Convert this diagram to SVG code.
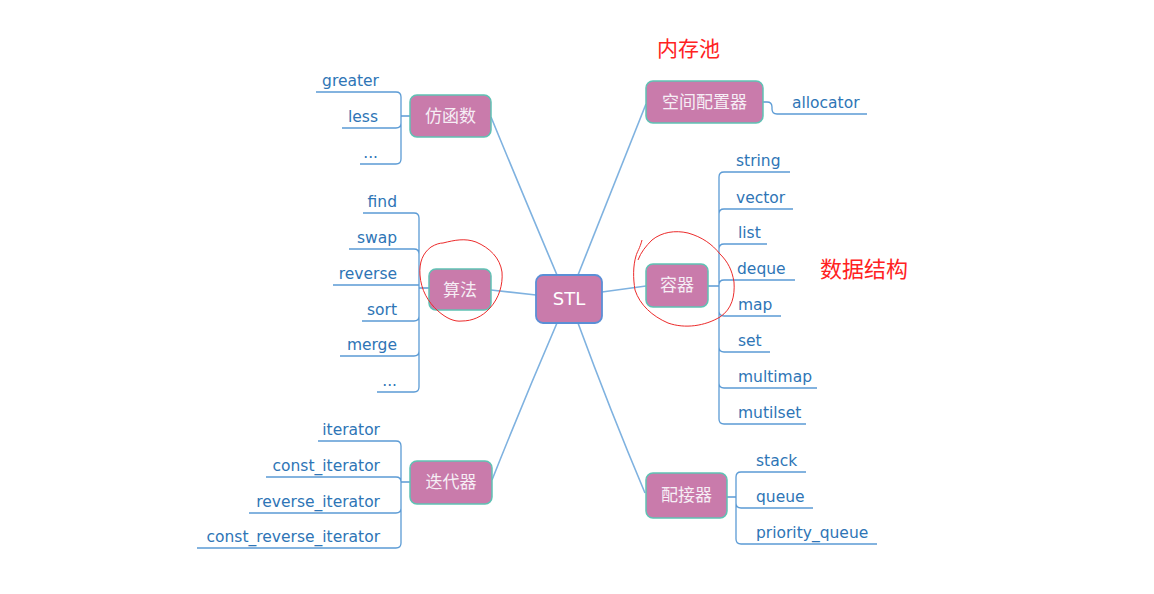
<svg xmlns="http://www.w3.org/2000/svg" width="1154" height="594" viewBox="0 0 1154 594">
<style>
.box{fill:#c97bab;stroke:#5fc2b4;stroke-width:1.5}
.root{fill:#c97bab;stroke:#5b8fd6;stroke-width:1.8}
.bt{font-family:"Noto Sans CJK SC","Noto Sans",sans-serif;font-size:17px;fill:#f6eef5;text-anchor:middle}
.rt{font-family:"DejaVu Sans",sans-serif;font-size:18px;fill:#ffffff;text-anchor:middle}
.lf{font-family:"DejaVu Sans",sans-serif;font-size:15.5px;fill:#2e75b6}
.l{text-anchor:end}
.main{fill:none;stroke:#7fb2e0;stroke-width:1.6}
.br{fill:none;stroke:#5b9bd5;stroke-width:1.3}
.red{fill:none;stroke:#ec2b2b;stroke-width:1}
.note{font-family:"Noto Sans CJK SC",sans-serif;fill:#ff2222}
</style>
<rect width="1154" height="594" fill="#ffffff"/>
<g id="connectors">
<path class="main" d="M491,117 Q521,190 557,275"/>
<path class="main" d="M646,104 Q613,188 578,275"/>
<path class="main" d="M491,290 L536,295"/>
<path class="main" d="M602,292 L646,286"/>
<path class="main" d="M557,323 Q523,402 492,480"/>
<path class="main" d="M578,323 Q610,410 645,493"/>
<path class="br" d="M316,92 H396 Q401,92 401,97 M342,128 H396 Q401,128 401,123 M360,164 H396 Q401,164 401,159 M401,97 V159 M410,116 H401"/>
<path class="br" d="M763,102 H767 Q772,102 772,107 V109 Q772,114 777,114 H867"/>
<path class="br" d="M363,213 H414 Q419,213 419,218 M349,249 H414 Q419,249 419,254 M333,285 H419 M362,321 H414 Q419,321 419,316 M340,356 H414 Q419,356 419,351 M377,392 H414 Q419,392 419,387 M419,218 V387 M429,288 H419"/>
<path class="br" d="M790,172 H724 Q719,172 719,177 M793,209 H724 Q719,209 719,214 M767,244 H724 Q719,244 719,249 M795,280 H724 Q719,280 719,285 M781,316 H724 Q719,316 719,311 M770,352 H724 Q719,352 719,347 M817,388 H724 Q719,388 719,383 M806,424 H724 Q719,424 719,419 M719,177 V419 M708,286 H719"/>
<path class="br" d="M318,441 H396 Q401,441 401,446 M266,477 H396 Q401,477 401,482 M249,513 H396 Q401,513 401,508 M197,548 H396 Q401,548 401,543 M401,446 V543 M410,482 H401"/>
<path class="br" d="M806,472 H741 Q736,472 736,477 M813,508 H741 Q736,508 736,503 M877,544 H741 Q736,544 736,539 M736,477 V539 M727,497 H736"/>
</g>
<g id="stl"><rect class="root" x="536" y="275" width="66" height="48" rx="7"/><text class="rt" x="569" y="305">STL</text></g>
<g id="functor"><rect class="box" x="410" y="95" width="81" height="42" rx="7"/><text class="bt" x="450.5" y="122">仿函数</text></g>
<g id="functor-items">
<text class="lf l" x="379" y="86">greater</text>
<text class="lf l" x="378" y="122">less</text>
<text class="lf l" x="378" y="158">...</text>
</g>
<g id="allocator"><rect class="box" x="646" y="81" width="117" height="42" rx="7"/><text class="bt" x="704.5" y="108">空间配置器</text></g>
<g id="allocator-items"><text class="lf" x="792" y="108">allocator</text></g>
<g id="algorithm"><rect class="box" x="429" y="269" width="62" height="41" rx="7"/><text class="bt" x="460" y="296">算法</text></g>
<g id="algorithm-items">
<text class="lf l" x="397" y="207">find</text>
<text class="lf l" x="397" y="243">swap</text>
<text class="lf l" x="397" y="279">reverse</text>
<text class="lf l" x="397" y="315">sort</text>
<text class="lf l" x="397" y="350">merge</text>
<text class="lf l" x="397" y="386">...</text>
</g>
<g id="container"><rect class="box" x="646" y="264" width="62" height="43" rx="7"/><text class="bt" x="677" y="291">容器</text></g>
<g id="container-items">
<text class="lf" x="736" y="166">string</text>
<text class="lf" x="736" y="203">vector</text>
<text class="lf" x="738" y="238">list</text>
<text class="lf" x="737" y="274">deque</text>
<text class="lf" x="738" y="310">map</text>
<text class="lf" x="738" y="346">set</text>
<text class="lf" x="738" y="382">multimap</text>
<text class="lf" x="738" y="418">mutilset</text>
</g>
<g id="iterator"><rect class="box" x="410" y="461" width="82" height="43" rx="7"/><text class="bt" x="451" y="488">迭代器</text></g>
<g id="iterator-items">
<text class="lf l" x="380" y="435">iterator</text>
<text class="lf l" x="380" y="471">const_iterator</text>
<text class="lf l" x="380" y="507">reverse_iterator</text>
<text class="lf l" x="380" y="542">const_reverse_iterator</text>
</g>
<g id="adapter"><rect class="box" x="646" y="473" width="81" height="45" rx="7"/><text class="bt" x="686.5" y="501">配接器</text></g>
<g id="adapter-items">
<text class="lf" x="756" y="466">stack</text>
<text class="lf" x="756" y="502">queue</text>
<text class="lf" x="756" y="538">priority_queue</text>
</g>
<g id="annotations">
<text class="note" x="657" y="56" font-size="21">内存池</text>
<text class="note" x="820" y="277" font-size="22">数据结构</text>
<path class="red" d="M443,243 C455,240 465,238 476,242 C490,248 500,258 502,272 C503,285 499,298 490,308 C482,317 472,321 462,321 C454,322 446,318 438,311 C428,302 421,290 420,275 C419,262 423,253 431,247 C436,244 440,243 443,243"/>
<path class="red" d="M642,240 C640,248 637,252 636,256 C633,266 633,278 635,290 C640,305 652,316 668,323 C685,329 705,326 720,317 C732,309 735,296 734,282 C732,270 728,262 720,254 C712,244 702,237 688,233 C675,230 662,232 652,240 C646,246 641,252 638,260"/>
</g>
</svg>
